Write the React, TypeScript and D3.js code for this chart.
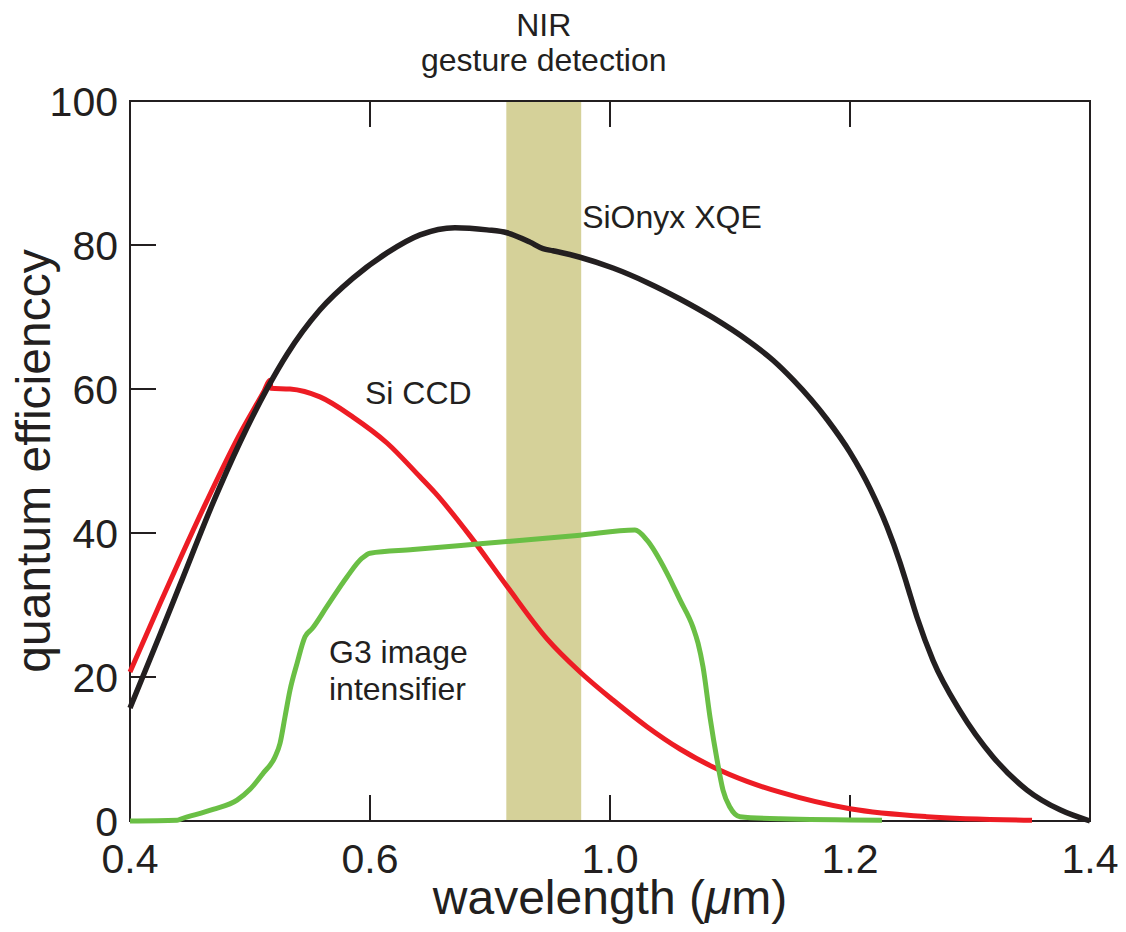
import React from "react";
import * as d3 from "d3";

// ---- data (wavelength in plot units, quantum efficiency in %) ----
const xTickValues = [0.4, 0.65, 0.9, 1.15, 1.4];
const xTickLabels = ["0.4", "0.6", "1.0", "1.2", "1.4"];
const yTickValues = [0, 20, 40, 60, 80, 100];

const nirBand = [0.792, 0.87];

const sionyxXQE: [number, number][] = [
  [0.4, 15.7], [0.4313, 25.9], [0.4521, 32.8], [0.4865, 44.2], [0.5146, 52.6],
  [0.5438, 60.3], [0.5635, 64.8], [0.5979, 71.0], [0.6323, 75.4], [0.6677, 78.9],
  [0.7021, 81.4], [0.7385, 82.4], [0.7719, 82.1], [0.7927, 81.7], [0.8167, 80.4],
  [0.8302, 79.5], [0.8406, 79.2], [0.8688, 78.3], [0.9031, 76.8], [0.9385, 74.8],
  [0.9729, 72.5], [1.0073, 69.9], [1.0427, 66.8], [1.0698, 64.0], [1.0906, 61.3],
  [1.126, 55.8], [1.15, 51.2], [1.1708, 46.2], [1.1885, 40.9], [1.2021, 35.9],
  [1.2094, 32.8], [1.2198, 28.3], [1.2365, 22.3], [1.2646, 15.3], [1.299, 8.9],
  [1.3344, 4.3], [1.3688, 1.55], [1.4, 0.0],
];

const siCCD: [number, number][] = [
  [0.4, 20.7], [0.4313, 30.2], [0.4521, 36.4], [0.4802, 44.5], [0.5146, 53.8],
  [0.5396, 59.7], [0.5458, 61.2], [0.5469, 60.1], [0.5667, 60.0], [0.5979, 58.9],
  [0.6323, 56.1], [0.6677, 52.5], [0.7021, 47.8], [0.7177, 45.6], [0.7542, 39.6],
  [0.7927, 32.6], [0.8344, 25.3], [0.8688, 20.7], [0.9031, 16.8], [0.9385, 13.1],
  [0.9729, 10.0], [1.0073, 7.5], [1.0427, 5.5], [1.0771, 4.0], [1.15, 1.7],
  [1.2302, 0.6], [1.3396, 0.1],
];

const g3Intensifier: [number, number][] = [
  [0.4, 0.0], [0.449, 0.1], [0.4521, 0.24], [0.4865, 1.6], [0.5115, 2.9],
  [0.525, 4.4], [0.5385, 6.6], [0.551, 8.9], [0.5563, 10.8], [0.5615, 14.5],
  [0.5667, 18.2], [0.574, 21.9], [0.5823, 25.6], [0.5896, 26.7], [0.6052, 29.8],
  [0.626, 33.9], [0.6417, 36.5], [0.65, 37.2], [0.6948, 37.7], [0.7646, 38.5],
  [0.8688, 39.7], [0.926, 40.4], [0.9385, 39.0], [0.9594, 34.4], [0.9729, 30.7],
  [0.9865, 26.9], [0.9917, 24.7], [0.9969, 21.4], [1.0042, 14.4], [1.0115, 8.5],
  [1.0177, 4.3], [1.025, 1.9], [1.0354, 0.6], [1.0771, 0.3], [1.1833, 0.1],
];

const curveLabels = [
  { text: "SiOnyx XQE", x: 0.871, y: 82.3 },
  { text: "Si CCD", x: 0.6448, y: 57.9 },
  { text: "G3 image", x: 0.6073, y: 21.9 },
  { text: "intensifier", x: 0.6073, y: 16.8 },
];

const bandTitle = ["NIR", "gesture detection"];

// ---- layout & style ----
const W = 1126;
const H = 932;
const M = { left: 130, top: 101, right: 36, bottom: 111 };
const FONT = "'Liberation Sans', Arial, Helvetica, sans-serif";
const INK = "#231f20";

export default function App() {
  const x = d3.scaleLinear().domain([0.4, 1.4]).range([M.left, W - M.right]);
  const y = d3.scaleLinear().domain([0, 100]).range([H - M.bottom, M.top]);
  const x0 = x.range()[0];
  const x1 = x.range()[1];
  const yb = y.range()[0];
  const yt = y.range()[1];
  const tickLen = 26;

  const line = d3
    .line<[number, number]>()
    .x((d) => x(d[0]))
    .y((d) => y(d[1]))
    .curve(d3.curveMonotoneX);

  const bandCenter = (nirBand[0] + nirBand[1]) / 2;

  return (
    <svg
      width={W}
      height={H}
      style={{ position: "absolute", left: 0, top: 0, display: "block", background: "#fff" }}
      fontFamily={FONT}
    >
      {/* NIR band */}
      <rect
        x={x(nirBand[0])}
        y={yt}
        width={x(nirBand[1]) - x(nirBand[0])}
        height={yb - yt}
        fill="#d5d199"
      />
      {/* frame */}
      <rect x={x0} y={yt} width={x1 - x0} height={yb - yt} fill="none" stroke={INK} strokeWidth={2} />
      {/* x ticks (bottom & top, inward) */}
      {xTickValues.slice(1, -1).map((v) => (
        <g key={"xt" + v}>
          <line x1={x(v)} x2={x(v)} y1={yb} y2={yb - tickLen} stroke={INK} strokeWidth={2} />
          <line x1={x(v)} x2={x(v)} y1={yt} y2={yt + tickLen} stroke={INK} strokeWidth={2} />
        </g>
      ))}
      {/* y ticks (left, inward) */}
      {yTickValues.slice(1, -1).map((v) => (
        <line key={"yt" + v} x1={x0} x2={x0 + tickLen} y1={y(v)} y2={y(v)} stroke={INK} strokeWidth={2} />
      ))}
      {/* tick labels */}
      {xTickValues.map((v, i) => (
        <text key={"xl" + v} x={x(v)} y={yb + 52} textAnchor="middle" fontSize={41} fill={INK}>
          {xTickLabels[i]}
        </text>
      ))}
      {yTickValues.map((v) => (
        <text key={"yl" + v} x={x0 - 12} y={y(v) + 15} textAnchor="end" fontSize={41} fill={INK}>
          {v}
        </text>
      ))}
      {/* axis titles */}
      <text x={(x0 + x1) / 2} y={yb + 93} textAnchor="middle" fontSize={48} fill={INK}>
        wavelength (<tspan fontStyle="italic">μ</tspan>m)
      </text>
      <text
        transform={`translate(50, ${(yt + yb) / 2}) rotate(-90)`}
        textAnchor="middle"
        fontSize={48}
        fill={INK}
      >
        quantum efficienccy
      </text>
      {/* band title */}
      {bandTitle.map((t, i) => (
        <text key={t} x={x(bandCenter)} y={yt - 65 + i * 35} textAnchor="middle" fontSize={32} fill={INK}>
          {t}
        </text>
      ))}
      {/* curves */}
      <path d={line(siCCD) || ""} fill="none" stroke="#ed1c24" strokeWidth={5} strokeLinejoin="round" />
      <path d={line(g3Intensifier) || ""} fill="none" stroke="#6abf45" strokeWidth={5} strokeLinejoin="round" />
      <path d={line(sionyxXQE) || ""} fill="none" stroke={INK} strokeWidth={5.5} strokeLinejoin="round" />
      {/* curve labels */}
      {curveLabels.map((l) => (
        <text key={l.text} x={x(l.x)} y={y(l.y)} fontSize={32} fill={INK}>
          {l.text}
        </text>
      ))}
    </svg>
  );
}
